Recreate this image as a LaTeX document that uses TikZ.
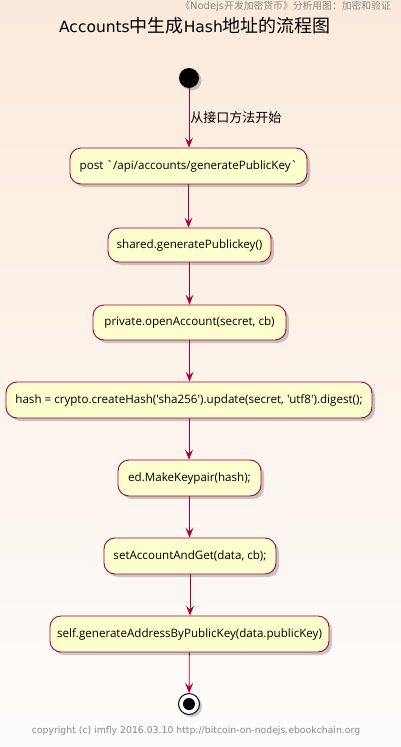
\documentclass[tikz,border=0pt]{standalone}
\usepackage{fontspec}
\setmainfont{DejaVu Sans}
\newfontfamily\cjk{Noto Sans CJK SC}
\newfontfamily\boxfont{Open Sans}
\usetikzlibrary{arrows.meta,shadows,positioning}
\definecolor{bgtop}{HTML}{FBEADA}
\definecolor{bgbot}{HTML}{FEFCFB}
\definecolor{boxfill}{HTML}{FEFECE}
\definecolor{pumlred}{HTML}{A80036}
\definecolor{hdrgray}{HTML}{888888}
\newcommand{\hcj}[1]{{\cjk\fontsize{9.8}{11}\selectfont #1}}
\newcommand{\tcj}[1]{{\cjk\fontsize{18}{20}\selectfont #1}}
\tikzset{
  x=1pt, y=-1pt,
  actbox/.style={draw=pumlred, fill=boxfill, line width=0.9pt, rounded corners=11pt,
    minimum height=36pt, inner sep=0pt, font=\boxfont\fontsize{11.6}{13}\selectfont,
    drop shadow={shadow xshift=3pt, shadow yshift=-3pt, opacity=0.35, fill=black!60}},
  flow/.style={draw=pumlred, line width=0.8pt, -{Stealth[length=10pt,width=8pt,inset=4pt,fill=pumlred]}},
}
\begin{document}
\begin{tikzpicture}
\useasboundingbox (0,0) rectangle (401,747);
\shade[top color=bgtop, bottom color=bgbot] (0,0) rectangle (401,747);
% header and title
\node[anchor=east, text=hdrgray, font=\fontsize{10}{12}\selectfont, inner sep=0pt] (hdr) at (391,6) {\hcj{《}Nodejs\hcj{开发加密货币》分析用图：加密和验证}};
\node[font=\fontsize{15.5}{20}\selectfont, inner sep=0pt] (title) at (195,26) {Accounts\tcj{中生成}Hash\tcj{地址的流程图}};
% start
\node[circle, fill=black, minimum size=20pt, inner sep=0pt,
  drop shadow={shadow xshift=2.5pt, shadow yshift=-2.5pt, opacity=0.35, fill=black!60}] (start) at (189,78) {};
% activities
\node[actbox, minimum width=237pt] (n1) at (188.5,166) {post `/api/accounts/generatePublicKey`};
\node[actbox, minimum width=163pt, minimum height=34pt] (n2) at (189.5,245) {shared.generatePublickey()};
\node[actbox, minimum width=193pt, minimum height=35pt] (n3) at (189.5,322.5) {private.openAccount(secret, cb)};
\node[actbox, minimum width=366pt] (n4) at (189,400) {hash = crypto.createHash('sha256').update(secret, 'utf8').digest();};
\node[actbox, minimum width=143pt] (n5) at (189.5,478) {ed.MakeKeypair(hash);};
\node[actbox, minimum width=172pt] (n6) at (190,556) {setAccountAndGet(data, cb);};
\node[actbox, minimum width=279pt] (n7) at (189.5,634) {self.generateAddressByPublicKey(data.publicKey)};
% stop
\node[circle, draw=black, fill=white, line width=1pt, minimum size=21pt, inner sep=0pt,
  drop shadow={shadow xshift=2.5pt, shadow yshift=-2.5pt, opacity=0.35, fill=black!60}] (stop) at (189,704) {};
\fill[black] (stop.center) circle (6pt);
% connectors
\draw[flow] (start) -- node[right, font=\cjk\fontsize{13}{15}\selectfont, inner sep=1pt, pos=0.5] (lbl) {从接口方法开始} (start |- n1.north);
\draw[flow] (n1) -- (n1 |- n2.north);
\draw[flow] (n2) -- (n2 |- n3.north);
\draw[flow] (n3) -- (n3 |- n4.north);
\draw[flow] (n4) -- (n4 |- n5.north);
\draw[flow] (n5) -- (n5 |- n6.north);
\draw[flow] (n6) -- (n6 |- n7.north);
\draw[flow] (n7) -- (stop);
% footer
\node[text=hdrgray, font=\fontsize{9.3}{11}\selectfont, inner sep=0pt] (ftr) at (196,731) {copyright (c) imfly 2016.03.10 http://bitcoin-on-nodejs.ebookchain.org};
\end{tikzpicture}
\end{document}
